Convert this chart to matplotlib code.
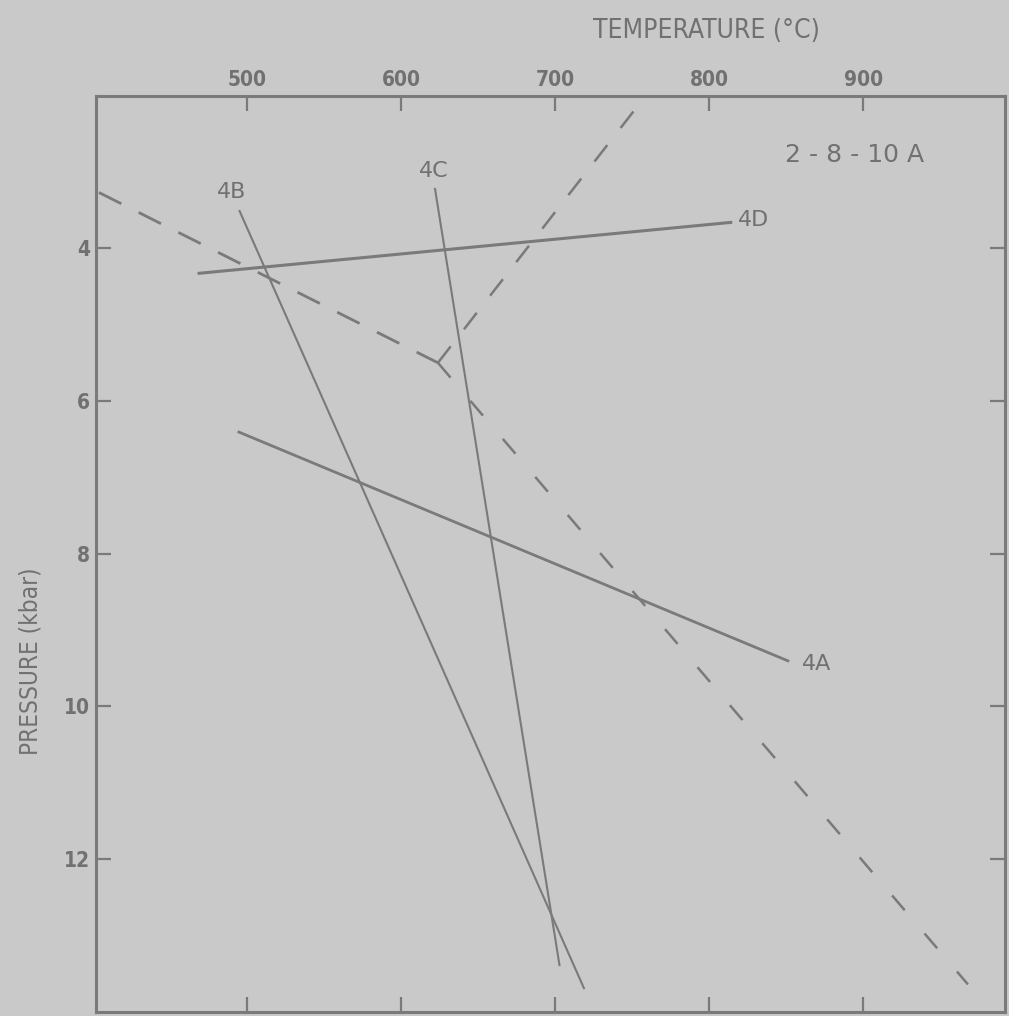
import matplotlib
matplotlib.use("Agg")
import matplotlib.pyplot as plt

# Reaction lines in P-T space (temperature in deg C, pressure in kbar)
line_4a_t = [494, 852]
line_4a_p = [6.40, 9.41]
line_4b_t = [495, 719]
line_4b_p = [3.50, 13.70]
line_4c_t = [622, 703]
line_4c_p = [3.21, 13.40]
line_4d_t = [468, 815]
line_4d_p = [4.33, 3.66]

# Dashed reaction boundaries meeting at an invariant point
dash_low_t = [404, 624]
dash_low_p = [3.27, 5.50]
dash_high_t = [624, 968]
dash_high_p = [5.50, 13.64]
dash_branch_t = [624, 752]
dash_branch_p = [5.50, 2.18]

line_labels = ["4A", "4B", "4C", "4D"]
label_t = [860, 490, 621, 819]
label_p = [9.45, 3.27, 2.99, 3.63]

x_ticks = [500, 600, 700, 800, 900]
y_ticks = [4, 6, 8, 10, 12]

BG = "#c9c9c9"
INK = "#7a7a7a"
TXT = "#717171"

plt.rcParams["lines.scale_dashes"] = False
cond = dict(family=["DejaVu Sans"], stretch="condensed")

fig = plt.figure(figsize=(10.09, 10.16), dpi=100, facecolor=BG)
ax = fig.add_axes([0.095, 0.004, 0.901, 0.902], facecolor=BG)

ax.set_xlim(402, 992)
ax.set_ylim(14, 2)

ax.plot(line_4a_t, line_4a_p, color=INK, lw=2.0, solid_capstyle="butt")
ax.plot(line_4b_t, line_4b_p, color=INK, lw=1.5, solid_capstyle="butt")
ax.plot(line_4c_t, line_4c_p, color=INK, lw=1.5, solid_capstyle="butt")
ax.plot(line_4d_t, line_4d_p, color=INK, lw=2.2, solid_capstyle="butt")

ax.plot(dash_low_t, dash_low_p, color=INK, lw=2.0, dashes=(18, 14))
ax.plot(dash_high_t, dash_high_p, color=INK, lw=1.8, dashes=(14, 22))
ax.plot(dash_branch_t, dash_branch_p, color=INK, lw=1.8, dashes=(15, 15.6))

for lab, t, p in zip(line_labels, label_t, label_p):
    ax.text(t, p, lab, color=TXT, fontsize=16, ha="left" if lab in ("4A", "4D") else "center",
            va="center", family=["DejaVu Sans"])

ax.text(0.835, 0.935, "2 - 8 - 10 A", transform=ax.transAxes, color=TXT,
        fontsize=18, ha="center", va="center", family=["DejaVu Sans"])

ax.set_xticks(x_ticks)
ax.set_yticks(y_ticks)
ax.xaxis.tick_top()
ax.tick_params(axis="both", which="both", direction="in", length=11, width=1.6,
               color=INK, labelcolor=TXT, labelsize=15, top=True, bottom=True,
               left=True, right=True, labeltop=True, labelbottom=False,
               labelleft=True, labelright=False)
ax.tick_params(axis="x", pad=4)
ax.tick_params(axis="y", pad=4)
for lbl in ax.get_xticklabels() + ax.get_yticklabels():
    lbl.set_family(["DejaVu Sans"])
    lbl.set_stretch("condensed")
    lbl.set_fontweight("bold")

ax.set_xlabel("TEMPERATURE (\u00b0C)", fontsize=19, color=TXT, **cond)
ax.xaxis.set_label_position("top")
ax.xaxis.set_label_coords(0.672, 1.063)
ax.set_ylabel("PRESSURE (kbar)", fontsize=17.5, color=TXT, **cond)
ax.yaxis.set_label_coords(-0.059, 0.383)

for side in ax.spines.values():
    side.set_color(INK)
    side.set_linewidth(2.2)

fig.savefig("out.png", dpi=100, facecolor=BG)
